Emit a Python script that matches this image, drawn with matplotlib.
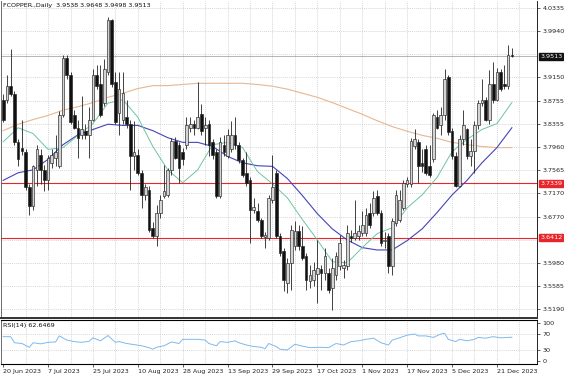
import matplotlib
matplotlib.use("Agg")
import matplotlib.pyplot as plt
import matplotlib.transforms as mtransforms

# daily OHLC, bar 0 = 20 Jun 2023
opens = [3.877, 3.877, 3.901, 3.886, 3.804, 3.795, 3.787, 3.727, 3.696, 3.757,
         3.783, 3.757, 3.740, 3.769, 3.778, 3.764, 3.850, 3.949, 3.920, 3.850,
         3.829, 3.816, 3.824, 3.816, 3.843, 3.920, 3.903, 3.872, 3.924, 4.013,
         3.907, 3.855, 3.843, 3.847, 3.835, 3.780, 3.783, 3.752, 3.714, 3.723,
         3.658, 3.644, 3.684, 3.713, 3.714, 3.756, 3.807, 3.799, 3.787, 3.799,
         3.829, 3.835, 3.829, 3.852, 3.829, 3.835, 3.804, 3.787, 3.713, 3.800,
         3.781, 3.792, 3.816, 3.799, 3.773, 3.752, 3.739, 3.689, 3.687, 3.672,
         3.642, 3.641, 3.706, 3.752, 3.644, 3.618, 3.564, 3.598, 3.627, 3.653,
         3.627, 3.610, 3.567, 3.569, 3.579, 3.588, 3.581, 3.581, 3.555, 3.577,
         3.593, 3.589, 3.593, 3.644, 3.641, 3.644, 3.649, 3.649, 3.684, 3.684,
         3.713, 3.684, 3.636, 3.644, 3.593, 3.666, 3.672, 3.692, 3.732, 3.732,
         3.797, 3.804, 3.768, 3.792, 3.764, 3.775, 3.847, 3.833, 3.850, 3.915,
         3.824, 3.781, 3.730, 3.809, 3.826, 3.781, 3.790, 3.833, 3.872, 3.876,
         3.843, 3.903, 3.877, 3.924, 3.903, 3.900, 3.9538]
highs = [3.886, 3.920, 3.963, 3.891, 3.809, 3.843, 3.792, 3.732, 3.766, 3.799,
         3.792, 3.766, 3.783, 3.792, 3.817, 3.857, 3.953, 3.953, 3.924, 3.860,
         3.843, 3.884, 3.835, 3.864, 3.929, 3.937, 3.937, 3.946, 4.018, 4.015,
         3.924, 3.924, 3.924, 3.877, 3.843, 3.840, 3.792, 3.757, 3.732, 3.730,
         3.668, 3.697, 3.714, 3.766, 3.761, 3.812, 3.814, 3.804, 3.795, 3.847,
         3.847, 3.843, 3.907, 3.869, 3.847, 3.843, 3.809, 3.792, 3.814, 3.817,
         3.826, 3.841, 3.847, 3.804, 3.778, 3.787, 3.744, 3.709, 3.701, 3.675,
         3.651, 3.714, 3.783, 3.757, 3.649, 3.624, 3.606, 3.663, 3.670, 3.663,
         3.661, 3.615, 3.594, 3.600, 3.637, 3.594, 3.624, 3.589, 3.606, 3.617,
         3.646, 3.603, 3.663, 3.654, 3.706, 3.663, 3.687, 3.692, 3.701, 3.721,
         3.723, 3.689, 3.651, 3.649, 3.675, 3.723, 3.723, 3.740, 3.744, 3.812,
         3.826, 3.809, 3.792, 3.800, 3.800, 3.855, 3.860, 3.864, 3.929, 3.920,
         3.829, 3.787, 3.816, 3.860, 3.829, 3.809, 3.840, 3.877, 3.912, 3.881,
         3.927, 3.941, 3.932, 3.929, 3.937, 3.970, 3.9648]
lows = [3.838, 3.872, 3.883, 3.799, 3.764, 3.783, 3.723, 3.680, 3.689, 3.730,
        3.732, 3.721, 3.723, 3.761, 3.764, 3.761, 3.847, 3.912, 3.835, 3.826,
        3.778, 3.809, 3.809, 3.778, 3.840, 3.895, 3.847, 3.867, 3.919, 3.898,
        3.835, 3.817, 3.835, 3.829, 3.723, 3.757, 3.749, 3.692, 3.706, 3.651,
        3.641, 3.627, 3.675, 3.709, 3.711, 3.749, 3.775, 3.735, 3.766, 3.792,
        3.821, 3.817, 3.826, 3.817, 3.800, 3.781, 3.775, 3.709, 3.709, 3.781,
        3.778, 3.788, 3.792, 3.769, 3.745, 3.730, 3.632, 3.684, 3.668, 3.641,
        3.624, 3.637, 3.701, 3.641, 3.610, 3.550, 3.546, 3.552, 3.620, 3.620,
        3.603, 3.552, 3.555, 3.558, 3.529, 3.552, 3.569, 3.546, 3.517, 3.569,
        3.586, 3.572, 3.586, 3.634, 3.637, 3.637, 3.644, 3.644, 3.658, 3.678,
        3.680, 3.627, 3.624, 3.581, 3.577, 3.661, 3.668, 3.689, 3.727, 3.727,
        3.792, 3.735, 3.754, 3.749, 3.745, 3.770, 3.826, 3.817, 3.843, 3.817,
        3.775, 3.727, 3.727, 3.800, 3.775, 3.764, 3.752, 3.826, 3.867, 3.840,
        3.835, 3.872, 3.874, 3.891, 3.895, 3.896, 3.9498]
closes = [3.843, 3.901, 3.886, 3.804, 3.775, 3.790, 3.727, 3.696, 3.764, 3.792,
          3.757, 3.740, 3.778, 3.783, 3.787, 3.850, 3.949, 3.920, 3.838, 3.829,
          3.812, 3.826, 3.816, 3.843, 3.920, 3.901, 3.850, 3.929, 4.013, 3.903,
          3.838, 3.895, 3.889, 3.835, 3.781, 3.787, 3.752, 3.714, 3.727, 3.654,
          3.644, 3.684, 3.706, 3.721, 3.756, 3.807, 3.778, 3.761, 3.775, 3.833,
          3.836, 3.829, 3.847, 3.824, 3.833, 3.799, 3.783, 3.713, 3.804, 3.787,
          3.816, 3.816, 3.799, 3.773, 3.749, 3.735, 3.689, 3.694, 3.672, 3.644,
          3.646, 3.709, 3.727, 3.644, 3.615, 3.569, 3.598, 3.654, 3.653, 3.627,
          3.606, 3.569, 3.577, 3.586, 3.589, 3.581, 3.610, 3.552, 3.589, 3.610,
          3.632, 3.594, 3.649, 3.641, 3.649, 3.653, 3.663, 3.680, 3.663, 3.709,
          3.684, 3.632, 3.637, 3.593, 3.670, 3.714, 3.706, 3.735, 3.739, 3.807,
          3.809, 3.764, 3.764, 3.752, 3.749, 3.850, 3.829, 3.850, 3.912, 3.821,
          3.781, 3.730, 3.809, 3.833, 3.781, 3.790, 3.833, 3.872, 3.877, 3.843,
          3.903, 3.877, 3.924, 3.895, 3.900, 3.954, 3.9513]

# moving averages read every 4 bars
ma_idx = list(range(0, 137, 4))
ma_fast = [3.805, 3.829, 3.819, 3.792, 3.795, 3.816, 3.836, 3.871, 3.877, 3.847,
           3.797, 3.757, 3.735, 3.757, 3.800, 3.804, 3.795, 3.754, 3.733, 3.709,
           3.672, 3.637, 3.600, 3.598, 3.624, 3.648, 3.658, 3.692, 3.714, 3.744,
           3.788, 3.809, 3.826, 3.836, 3.872]
ma_mid = [3.739, 3.752, 3.757, 3.775, 3.800, 3.817, 3.826, 3.835, 3.833, 3.833,
          3.824, 3.812, 3.804, 3.804, 3.797, 3.780, 3.769, 3.764, 3.763, 3.742,
          3.713, 3.682, 3.656, 3.637, 3.624, 3.620, 3.620, 3.636, 3.656, 3.684,
          3.714, 3.739, 3.769, 3.795, 3.829]
ma_slow = [3.824, 3.835, 3.843, 3.850, 3.859, 3.865, 3.872, 3.881, 3.888, 3.896,
           3.901, 3.901, 3.903, 3.905, 3.905, 3.905, 3.905, 3.903, 3.900, 3.895,
           3.888, 3.881, 3.872, 3.862, 3.852, 3.841, 3.831, 3.823, 3.816, 3.811,
           3.804, 3.800, 3.797, 3.795, 3.795]

rsi_idx = [0, 2, 3, 5, 7, 8, 10, 12, 14, 15, 17, 19, 21, 23, 24, 26, 28, 30, 31, 33,
           35, 37, 39, 40, 41, 43, 45, 47, 48, 50, 52, 54, 55, 57, 58, 60, 62, 63, 65, 67,
           69, 70, 71, 73, 74, 76, 78, 80, 82, 85, 87, 89, 91, 93, 95, 97, 99, 101, 103, 104,
           106, 108, 110, 111, 113, 115, 117, 118, 119, 121, 122, 124, 126, 127, 129, 131, 133, 135, 136]
rsi_val = [64, 64, 48, 46, 36, 48, 45, 49, 50, 66, 55, 51, 49, 52, 61, 53, 67, 49, 51, 46,
           43, 40, 35, 31, 36, 40, 50, 46, 57, 57, 57, 55, 46, 40, 51, 49, 53, 48, 42, 38,
           36, 32, 46, 38, 31, 29, 44, 39, 35, 36, 35, 46, 42, 51, 53, 57, 60, 48, 42, 55,
           61, 68, 71, 66, 66, 62, 71, 73, 57, 51, 57, 53, 57, 62, 60, 64, 61, 62, 62.6]

date_labels = ["20 Jun 2023", "7 Jul 2023", "25 Jul 2023", "10 Aug 2023", "28 Aug 2023",
               "13 Sep 2023", "29 Sep 2023", "17 Oct 2023", "1 Nov 2023", "17 Nov 2023",
               "5 Dec 2023", "21 Dec 2023"]
price_ticks = [4.0335, 3.9940, 3.9150, 3.8755, 3.8355, 3.7960, 3.7565, 3.7170,
               3.6770, 3.5980, 3.5585, 3.5190]
support_levels = [3.7339, 3.6412]
last_price = 3.9513

FS = 4.6
plt.rcParams['font.family'] = 'DejaVu Sans'
fig = plt.figure(figsize=(5.64, 3.76), dpi=100)
ax = fig.add_axes([0.002, 0.154, 0.950, 0.843])
axr = fig.add_axes([0.002, 0.032, 0.950, 0.117], sharex=ax)

n = len(closes)
xs = list(range(n))
grid_kw = dict(color='#c8c8c8', lw=0.5, ls=(0, (1.5, 1.5)), zorder=0)

# grid
for gx in range(6, n + 8, 6):
    ax.axvline(gx, **grid_kw)
    axr.axvline(gx, **grid_kw)
for p in price_ticks + [3.9545, 3.6375]:
    ax.axhline(p, **grid_kw)
for r in [70, 30]:
    axr.axhline(r, **grid_kw)

# moving averages
ax.plot(ma_idx, ma_slow, color='#e5b793', lw=0.8, zorder=2)
ax.plot(ma_idx, ma_mid, color='#4444bb', lw=0.8, zorder=2)
ax.plot(ma_idx, ma_fast, color='#6cc4a4', lw=0.7, zorder=2)

# levels
for lv in support_levels:
    ax.axhline(lv, color='#e8252b', lw=0.8, zorder=1)
ax.axhline(last_price, color='#a8a8a8', lw=0.6, zorder=1)

# candles
ax.vlines(xs, lows, highs, color='#222222', lw=0.6, zorder=3)
for i in xs:
    o, c = opens[i], closes[i]
    up = c >= o
    h = max(abs(c - o), 0.0012)
    ax.bar(i, h, bottom=min(o, c), width=0.72,
           color='#d4d4d4' if up else '#111111', edgecolor='#222222',
           linewidth=0.45, zorder=4)

ax.set_xlim(-0.55, 142.7)
ax.set_ylim(3.5035, 4.0455)
ax.yaxis.tick_right()
ax.set_yticks(price_ticks)
ax.set_yticklabels(['%.4f' % p for p in price_ticks])
ax.tick_params(axis='y', labelsize=FS, length=2, width=0.5, pad=2, colors='#222222')
ax.tick_params(axis='x', bottom=False, labelbottom=False)
for s in ['top']:
    ax.spines[s].set_visible(False)
ax.spines['left'].set_color('#555555')
ax.spines['left'].set_linewidth(0.6)
ax.spines['right'].set_linewidth(0.6)
ax.spines['bottom'].set_linewidth(1.4)
ax.spines['bottom'].set_color('#333333')

# price tags on the axis
trans = mtransforms.blended_transform_factory(ax.transAxes, ax.transData)
tags = [(last_price, '#111111')] + [(lv, '#e8252b') for lv in support_levels]
for val, col in tags:
    ax.text(1.006, val, '%.4f' % val, transform=trans, fontsize=FS, color='white',
            ha='left', va='center', zorder=10, clip_on=False,
            bbox=dict(boxstyle='square,pad=0.15', fc=col, ec=col))

ax.text(0.004, 0.993, 'FCOPPER.,Daily  3.9538 3.9648 3.9498 3.9513', transform=ax.transAxes,
        fontsize=FS, ha='left', va='top', color='#111111')

# RSI pane
axr.plot(rsi_idx, rsi_val, color='#7db9ee', lw=0.7, zorder=2)
axr.set_ylim(-8, 108)
axr.yaxis.tick_right()
axr.set_yticks([100, 70, 30, 0])
axr.tick_params(axis='y', labelsize=FS, length=2, width=0.5, pad=2, colors='#222222')
axr.set_xticks(list(range(0, 12 * len(date_labels), 12)))
axr.set_xticklabels(date_labels, ha='left')
axr.tick_params(axis='x', labelsize=FS, length=2, width=0.5, pad=1.5, colors='#222222')
axr.spines['top'].set_linewidth(0.8)
axr.spines['left'].set_color('#555555')
axr.spines['left'].set_linewidth(0.6)
axr.spines['right'].set_linewidth(0.6)
axr.spines['bottom'].set_linewidth(0.8)
axr.text(0.004, 0.93, 'RSI(14) 62.6469', transform=axr.transAxes, fontsize=FS,
         ha='left', va='top', color='#111111')

fig.savefig('out.png', dpi=100, facecolor='white')
